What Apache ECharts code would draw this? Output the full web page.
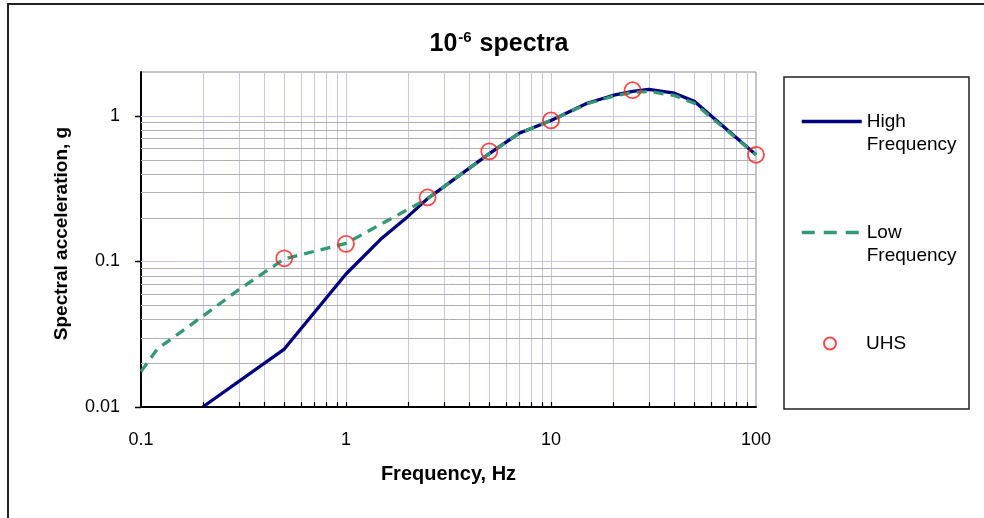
<!DOCTYPE html>
<html>
<head>
<meta charset="utf-8">
<script src="https://cdn.jsdelivr.net/npm/echarts@6/dist/echarts.min.js"></script>
<style>html,body{margin:0;padding:0;background:#fff}#c{width:984px;height:518px}</style>
</head>
<body>
<div id="c"></div>
<script>
// ---- data ----
const highFreqX = [0.2, 0.5, 1, 1.5, 2, 2.5, 5, 7, 10, 15, 20, 25, 30, 40, 50, 100];
const highFreqY = [0.01, 0.025, 0.082, 0.145, 0.203, 0.27, 0.55, 0.76, 0.93, 1.22, 1.38, 1.47, 1.52, 1.43, 1.26, 0.54];
const lowFreqX = [0.1, 0.12, 0.2, 0.3, 0.5, 1, 2.5, 5, 7, 10, 15, 20, 25, 30, 40, 50, 100];
const lowFreqY = [0.0175, 0.025, 0.042, 0.064, 0.104, 0.133, 0.27, 0.55, 0.76, 0.93, 1.21, 1.36, 1.45, 1.47, 1.38, 1.22, 0.54];
const uhsX = [0.5, 1, 2.5, 5, 10, 25, 100];
const uhsY = [0.105, 0.132, 0.275, 0.57, 0.93, 1.5, 0.54];
const xMin = 0.1, xMax = 100;
const yMin = 0.01, yMax = 2;
const xGridLines = [0.2,0.3,0.4,0.5,0.6,0.7,0.8,0.9,1,2,3,4,5,6,7,8,9,10,20,30,40,50,60,70,80,90];
const xTickValues = [0.2,0.3,0.4,0.5,0.6,0.7,0.8,0.9,1,2,3,4,5,6,7,8,9,10,20,30,40,50,60,70,80,90];
const yMinorGrid = [0.02,0.03,0.04,0.05,0.06,0.07,0.08,0.09,0.2,0.3,0.4,0.5,0.6,0.7,0.8,0.9];
const yMajorGrid = [0.1, 1];
const yTickValues = [0.01, 0.1, 1];
const titleMain = '10', titleSup = '-6', titleRest = ' spectra';
const xTitle = 'Frequency, Hz';
const yTitle = 'Spectral acceleration, g';
const seriesNames = ['High Frequency', 'Low Frequency', 'UHS'];

const FONT = 'Liberation Sans, Arial, sans-serif';
const zip = (a, b) => a.map((v, i) => [v, b[i]]);

function vLine(color) {
  return function (params, api) {
    const cs = params.coordSys;
    const p = api.coord([api.value(0), api.value(1)]);
    const x = Math.round(p[0]) + 0.5;
    return {type: 'line', shape: {x1: x, y1: cs.y, x2: x, y2: cs.y + cs.height},
      style: {stroke: color, lineWidth: 1}, silent: true};
  };
}
function hLine(color) {
  return function (params, api) {
    const cs = params.coordSys;
    const p = api.coord([api.value(0), api.value(1)]);
    const y = Math.round(p[1]) + 0.5;
    return {type: 'line', shape: {x1: cs.x, y1: y, x2: cs.x + cs.width, y2: y},
      style: {stroke: color, lineWidth: 1}, silent: true};
  };
}
function xTick(params, api) {
  const cs = params.coordSys;
  const p = api.coord([api.value(0), api.value(1)]);
  const x = Math.round(p[0]) + 0.5;
  const yb = cs.y + cs.height;
  return {type: 'line', shape: {x1: x, y1: yb, x2: x, y2: yb - 5},
    style: {stroke: '#000', lineWidth: 1.2}, silent: true};
}
function yTick(params, api) {
  const cs = params.coordSys;
  const p = api.coord([api.value(0), api.value(1)]);
  const y = Math.round(p[1]) + 0.5;
  return {type: 'line', shape: {x1: cs.x - 6, y1: y, x2: cs.x, y2: y},
    style: {stroke: '#000', lineWidth: 1.5}, silent: true};
}

const chart = echarts.init(document.getElementById('c'), null, {renderer: 'canvas'});
const legendText = {fontFamily: FONT, fontSize: 19, color: '#000', lineHeight: 23};
const hiddenSymbol = {color: 'rgba(0,0,0,0)', borderWidth: 0, borderColor: 'rgba(0,0,0,0)'};
chart.setOption({
  animation: false,
  backgroundColor: '#fff',
  grid: {left: 141, right: 228, top: 72, bottom: 111, show: true, borderColor: '#8c8c8c', borderWidth: 1, backgroundColor: 'transparent'},
  xAxis: {
    type: 'log', logBase: 10, min: xMin, max: xMax,
    axisLine: {show: true, onZero: false, lineStyle: {color: '#000', width: 2}},
    axisTick: {show: false},
    splitLine: {show: false},
    axisLabel: {fontFamily: FONT, fontSize: 18, color: '#000', margin: 24,
      formatter: v => String(+v.toPrecision(6))},
    name: xTitle, nameLocation: 'middle', nameGap: 57,
    nameTextStyle: {fontFamily: FONT, fontSize: 20, fontWeight: 'bold', color: '#000'}
  },
  yAxis: {
    type: 'log', logBase: 10, min: yMin, max: yMax,
    axisLine: {show: true, onZero: false, lineStyle: {color: '#000', width: 2}},
    axisTick: {show: false},
    splitLine: {show: false},
    axisLabel: {fontFamily: FONT, fontSize: 18, color: '#000', margin: 21, showMaxLabel: false,
      formatter: v => {
        const l = Math.log10(v);
        return Math.abs(l - Math.round(l)) < 1e-6 ? String(+v.toPrecision(6)) : '';
      }},
    name: yTitle, nameLocation: 'middle', nameGap: 70, nameRotate: 90,
    nameTextStyle: {fontFamily: FONT, fontSize: 19, fontWeight: 'bold', color: '#000', padding: [0, 0, 0, 12]}
  },
  legend: [
    {data: [seriesNames[0]], orient: 'vertical', left: 800, top: 87, padding: 0,
      itemWidth: 60, itemHeight: 14, selectedMode: false, itemStyle: hiddenSymbol,
      lineStyle: {width: 3.5},
      formatter: n => '\n' + n.replace(' ', '\n'),
      textStyle: legendText},
    {data: [seriesNames[1]], orient: 'vertical', left: 800, top: 198, padding: 0,
      itemWidth: 60, itemHeight: 14, selectedMode: false, itemStyle: hiddenSymbol,
      lineStyle: {width: 3.5, type: [13, 9]},
      formatter: n => '\n' + n.replace(' ', '\n'),
      textStyle: legendText},
    {data: [seriesNames[2]], orient: 'vertical', left: 823, top: 332, padding: 0,
      itemWidth: 12, itemHeight: 14, selectedMode: false,
      textStyle: Object.assign({padding: [0, 0, 0, 25]}, legendText)}
  ],
  graphic: [
    {type: 'rect', shape: {x: 8, y: 4, width: 1200, height: 800}, style: {fill: 'none', stroke: '#222', lineWidth: 2}, silent: true, z: 100},
    {type: 'rect', shape: {x: 784, y: 77, width: 185, height: 332}, style: {fill: 'none', stroke: '#222', lineWidth: 1.5}, silent: true},
    {type: 'text', x: 499, y: 44, style: {
      text: '{n|' + titleMain + '}{s|' + titleSup + '}{n|' + titleRest + '}',
      align: 'center', verticalAlign: 'middle',
      rich: {
        n: {fontFamily: FONT, fontSize: 25, fontWeight: 'bold', fill: '#000'},
        s: {fontFamily: FONT, fontSize: 15, fontWeight: 'bold', fill: '#000', padding: [0, 1, 13, 1]}
      }}, silent: true}
  ],
  series: [
    {type: 'custom', name: 'vgrid', renderItem: vLine('#c9c4f0'), data: xGridLines.map(v => [v, yMin]), z: 1, silent: true, clip: false},
    {type: 'custom', name: 'hgridMinor', renderItem: hLine('#b0b0b0'), data: yMinorGrid.map(v => [xMin, v]), z: 1, silent: true, clip: false},
    {type: 'custom', name: 'hgridMajor', renderItem: hLine('#c9c4f0'), data: yMajorGrid.map(v => [xMin, v]), z: 1, silent: true, clip: false},
    {type: 'custom', name: 'xticks', renderItem: xTick, data: xTickValues.map(v => [v, yMin]), z: 5, silent: true, clip: false},
    {type: 'custom', name: 'yticks', renderItem: yTick, data: yTickValues.map(v => [xMin, v]), z: 5, silent: true, clip: false},
    {type: 'line', name: seriesNames[0], data: zip(highFreqX, highFreqY), showSymbol: false, symbol: 'none',
      lineStyle: {color: '#000080', width: 3.3}, itemStyle: {color: '#000080'}, z: 3, clip: true},
    {type: 'line', name: seriesNames[1], data: zip(lowFreqX, lowFreqY), showSymbol: false, symbol: 'none',
      lineStyle: {color: '#339973', width: 3.3, type: [10, 7]}, itemStyle: {color: '#339973'}, z: 4, clip: true},
    {type: 'scatter', name: seriesNames[2], data: zip(uhsX, uhsY), symbol: 'circle', symbolSize: 16,
      itemStyle: {color: 'rgba(255,255,255,0)', borderColor: '#ff1a1a', borderWidth: 1.8}, z: 6}
  ]
});
</script>
</body>
</html>
